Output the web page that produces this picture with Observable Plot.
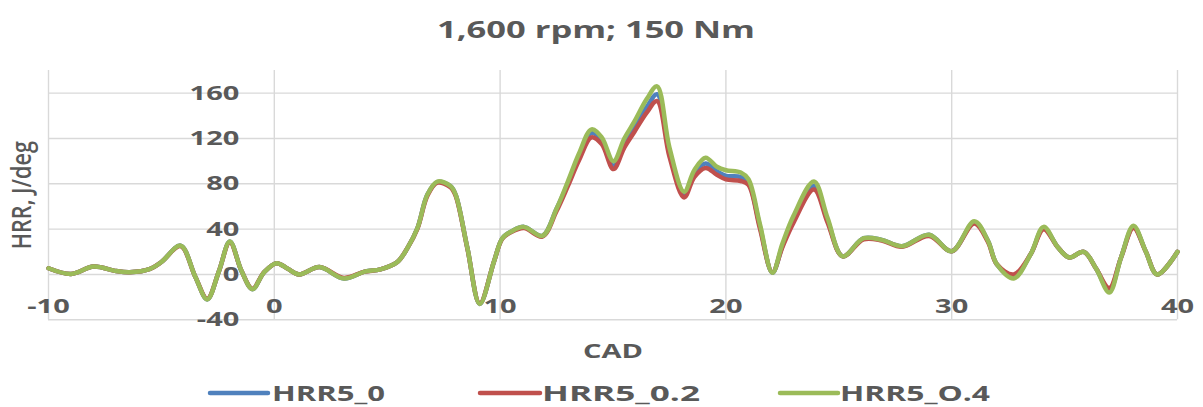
<!DOCTYPE html>
<html>
<head>
<meta charset="utf-8">
<script src="https://cdn.jsdelivr.net/npm/d3@7"></script>
<script src="https://cdn.jsdelivr.net/npm/@observablehq/plot@0.6"></script>
<style>
  html, body { margin: 0; padding: 0; background: #ffffff; }
  #chart { width: 1203px; height: 407px; overflow: hidden; }
  svg { display: block; }
</style>
</head>
<body>
<div id="chart"></div>
<script>
// Crank angle (deg) and heat release rate (J/deg) for the three cases
const cad = [-10, -9, -8, -7, -6.4, -5.5, -5, -4.15, -3.5, -2.97,
  -2.45, -1.97, -1.45, -0.97, -0.45, 0.1, 0.6, 1.1, 2, 3.08,
  4, 4.7, 5.45, 5.9, 6.34, 6.78, 7.22, 7.8, 8.03, 8.55,
  9.1, 9.73, 10.1, 10.5, 11.06, 11.87, 12.5, 13, 13.5, 14.05,
  14.5, 15.02, 15.5, 15.95, 16.5, 16.95, 17.5, 18.15, 18.6, 19.1,
  19.6, 20, 20.66, 21, 21.5, 22.06, 22.5, 23, 23.9, 24.5,
  25.17, 26.1, 26.9, 27.8, 29, 30, 31, 31.6, 32, 32.75,
  33.5, 34.07, 34.7, 35.2, 35.85, 36.4, 36.98, 37.5, 38.05, 38.6,
  39.1, 40];

const hrr5_0 = [5.5, 0.5, 7, 3, 2, 5, 11, 25.5, -2, -22,
  3, 29, 3, -13, 2, 10, 5, 0, 6.5, -3.5,
  2.5, 4.5, 11, 23.5, 41, 70.5, 81.5, 78, 70.5, 23.5,
  -26, 11.5, 32, 38, 42, 34, 58, 80, 104, 125,
  118, 96, 116, 131, 148, 159, 108, 71, 89, 98,
  91, 87, 86, 81, 43, 1.5, 25, 49, 78, 48,
  16, 32, 30.5, 25, 35, 20.5, 46, 30, 9, -2,
  18, 41, 24, 15, 20, 5, -14, 15, 42, 20,
  0, 20];

const hrr5_02 = [5.5, 0.5, 7, 3, 2, 5, 11, 25, -2, -21.5,
  3, 28.5, 3, -12.5, 2, 10, 5, 0, 6.5, -3,
  2.5, 4.5, 11, 23.5, 40.5, 69.5, 81, 77, 69.5, 23,
  -25.5, 11.5, 31.5, 37.5, 41, 33.5, 56, 78, 101, 121,
  115, 93, 112, 126, 143, 153, 104, 68, 86, 94,
  88, 84, 82.5, 79, 41, 2, 24, 46, 75, 46,
  16, 31, 30, 24.5, 34, 20.5, 45, 29, 9, 0,
  18, 40, 24, 15, 20, 5, -12, 15, 41, 20,
  0, 20];

const hrr5_04 = [5.5, 0.5, 7, 3, 2, 5, 11, 25.5, -2, -22,
  3, 29, 3, -13, 2, 10, 5, 0, 6.5, -3.5,
  2.5, 4.5, 11, 23.5, 41, 70.5, 82, 78, 70.5, 23.5,
  -26, 11.5, 32, 38, 42, 34, 58, 82, 107, 128,
  121, 100, 120, 135, 155, 166, 112, 73, 92, 103,
  95, 92, 90, 84, 45, 1.5, 27, 52, 82, 50,
  16, 32, 30.5, 25, 35, 20.5, 47, 30, 9, -3.5,
  18, 42, 24, 15, 20, 5, -16, 15, 43, 20,
  0, 20];

const seriesNames = ["HRR5_0", "HRR5_0.2", "HRR5_O.4"];
const seriesColors = ["#4f81bd", "#c0504d", "#9bbb59"];
const xTicks = [-10, 0, 10, 20, 30, 40];
const yTicks = [-40, 0, 40, 80, 120, 160];
const titleText = "1,600 rpm; 150 Nm";
const xLabel = "CAD";
const yLabel = "HRR, J/deg";

const textColor = "#595959";
const gridColor = "#d9d9d9";
const font = "'Open Sans', 'Noto Sans', sans-serif";
const NS = "http://www.w3.org/2000/svg";

// long-format table for the line mark
const rows = [];
[hrr5_0, hrr5_02, hrr5_04].forEach((vals, s) => {
  vals.forEach((v, i) => rows.push({series: seriesNames[s], cad: cad[i], hrr: v}));
});

function el(tag, attrs, text) {
  const e = document.createElementNS(NS, tag);
  for (const k in attrs) e.setAttribute(k, attrs[k]);
  if (text != null) e.textContent = text;
  return e;
}

// widen a text element's glyphs to a given length
function fit(t, length) {
  t.setAttribute("textLength", length);
  t.setAttribute("lengthAdjust", "spacingAndGlyphs");
}

const root = document.getElementById("chart");

// title
const titleSvg = el("svg", {width: 1203, height: 56});
const title = el("text", {
  x: 596, y: 28, "text-anchor": "middle", "dominant-baseline": "central",
  fill: textColor, "font-family": font, "font-weight": 700, "font-size": 24
}, titleText);
titleSvg.appendChild(title);
root.appendChild(titleSvg);
fit(title, 318);

const labelStyle = {fontFamily: font, fontWeight: 700, fontSize: 20, fill: textColor};

const chart = Plot.plot({
  width: 1203,
  height: 316,
  marginLeft: 48,
  marginRight: 26,
  marginTop: 14,
  marginBottom: 52.7,
  style: {background: "#ffffff", fontFamily: font, overflow: "visible"},
  x: {domain: [-10, 40], axis: null},
  y: {domain: [-40, 180], axis: null},
  color: {domain: seriesNames, range: seriesColors},
  marks: [
    Plot.gridY(yTicks, {stroke: gridColor, strokeOpacity: 1, strokeWidth: 1.4}),
    Plot.gridX(xTicks, {stroke: gridColor, strokeOpacity: 1, strokeWidth: 1.4}),
    Plot.line(rows, {
      x: "cad", y: "hrr", z: "series", stroke: "series",
      strokeWidth: 4.5, curve: "catmull-rom", strokeLinejoin: "round", strokeLinecap: "round"
    }),
    // y tick labels sit left of the vertical axis at CAD = 0
    Plot.text(yTicks, {x: 0, y: d => d, dx: -35, textAnchor: "end", ...labelStyle}),
    // x tick labels sit just inside the bottom edge
    Plot.text(xTicks, {x: d => d, y: -40, dy: -13, textAnchor: "middle", ...labelStyle}),
    Plot.text([yLabel], {frameAnchor: "left", textAnchor: "middle", dx: -26, rotate: -90,
      fontFamily: font, fontWeight: 600, fontSize: 27, fill: textColor}),
    Plot.text([xLabel], {frameAnchor: "bottom", dy: 38, ...labelStyle})
  ]
});
root.appendChild(chart);

// stretch the chart's labels horizontally
chart.querySelectorAll("text").forEach(t => {
  const s = t.textContent;
  if (s === yLabel) fit(t, 108);
  else fit(t, t.getComputedTextLength() * 1.45);
});

// legend
const legendSvg = el("svg", {width: 1203, height: 35});
const legendItems = [
  {x0: 210, x1: 268, tx: 272, tw: 113},
  {x0: 480, x1: 540, tx: 542, tw: 158},
  {x0: 780, x1: 838, tx: 840, tw: 150}
];
seriesNames.forEach((name, i) => {
  const it = legendItems[i];
  legendSvg.appendChild(el("line", {
    x1: it.x0, x2: it.x1, y1: 21, y2: 21,
    stroke: seriesColors[i], "stroke-width": 4.5, "stroke-linecap": "round"
  }));
  const t = el("text", {
    x: it.tx, y: 21, "dominant-baseline": "central",
    fill: textColor, "font-family": font, "font-weight": 700, "font-size": 21
  }, name);
  legendSvg.appendChild(t);
});
root.appendChild(legendSvg);
legendSvg.querySelectorAll("text").forEach((t, i) => fit(t, legendItems[i].tw));
</script>
</body>
</html>
